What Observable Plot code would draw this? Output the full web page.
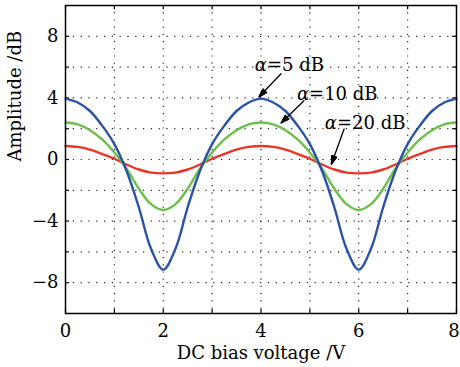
<!DOCTYPE html>
<html><head><meta charset="utf-8">
<script src="https://cdn.jsdelivr.net/npm/d3@7"></script>
<script src="https://cdn.jsdelivr.net/npm/@observablehq/plot@0.6"></script>
<style>body{margin:0;background:#fff;} svg{display:block;}</style>
</head><body><div id="chart"></div>
<script>
// DC bias voltage (V)
const voltage = [0,0.25,0.5,0.75,1,1.25,1.5,1.75,2,2.25,2.5,2.75,3,3.25,3.5,3.75,4,
                 4.25,4.5,4.75,5,5.25,5.5,5.75,6,6.25,6.5,6.75,7,7.25,7.5,7.75,8];
// Amplitude (dB) for each extinction ratio
const alpha5 = [3.95,3.7,3.15,2.2,1.0,-0.75,-3.1,-5.8,-7.15,-5.8,-3.1,-0.75,1.0,2.2,3.15,3.7,3.95,
                3.7,3.15,2.2,1.0,-0.75,-3.1,-5.8,-7.15,-5.8,-3.1,-0.75,1.0,2.2,3.15,3.7,3.95];
const alpha10 = [2.4,2.28,1.9,1.3,0.45,-0.6,-1.9,-2.9,-3.28,-2.9,-1.9,-0.6,0.45,1.3,1.9,2.28,2.4,
                 2.28,1.9,1.3,0.45,-0.6,-1.9,-2.9,-3.28,-2.9,-1.9,-0.6,0.45,1.3,1.9,2.28,2.4];
const alpha20 = [0.88,0.82,0.64,0.36,0.05,-0.33,-0.65,-0.85,-0.9,-0.85,-0.65,-0.33,0.05,0.36,0.64,0.82,0.88,
                 0.82,0.64,0.36,0.05,-0.33,-0.65,-0.85,-0.9,-0.85,-0.65,-0.33,0.05,0.36,0.64,0.82,0.88];

const xTicks = [0,2,4,6,8];
const yTicks = [-8,-4,0,4,8];
const xGrid = [1,2,3,4,5,6,7];
const yGrid = [-8,-6,-4,-2,0,2,4,6,8];
const xDomain = [0,8];
const yDomain = [-10,10];

// annotations
const labelText = ["α=5 dB","α=10 dB","α=20 dB"];
const labelX = [4.58,5.56,6.13];
const labelY = [6.1,4.26,2.37];
const arrowX1 = [4.41,4.88,5.70];
const arrowY1 = [5.57,3.81,1.98];
const arrowX2 = [3.96,4.41,5.44];
const arrowY2 = [4.07,2.37,-0.31];

const colors = {a5:"#2a52a8", a10:"#6dbf4b", a20:"#e8362b"};

const toRows = (ys) => voltage.map((v,i) => ({x:v, y:ys[i]}));
const labels = labelText.map((t,i) => ({t, x:labelX[i], y:labelY[i]}));
const arrows = labelText.map((t,i) => ({x1:arrowX1[i], y1:arrowY1[i], x2:arrowX2[i], y2:arrowY2[i]}));
const minus = d => String(d).replace("-", "\u2212");

const tickLenY = 0.28, tickLenX = 0.08;
const allX = [0,1,2,3,4,5,6,7,8];

const chart = Plot.plot({
  width: 460, height: 367,
  marginLeft: 65, marginRight: 4, marginTop: 5, marginBottom: 54,
  style: {fontFamily: "'DejaVu Serif', serif", fontSize: "18px", background: "#fff", color: "#000"},
  x: {domain: xDomain, ticks: xTicks, tickFormat: minus, tickSize: 0, tickPadding: 11, label: null},
  y: {domain: yDomain, ticks: yTicks, tickFormat: minus, tickSize: 0, tickPadding: 7, label: null},
  marks: [
    Plot.ruleX(xGrid, {stroke: "#000", strokeWidth: 1.2, strokeDasharray: "1.2,6", strokeOpacity: 0.85}),
    Plot.ruleY(yGrid, {stroke: "#000", strokeWidth: 1.2, strokeDasharray: "1.2,6.6", strokeOpacity: 0.85}),
    // inward ticks
    Plot.ruleX(allX, {y1: yDomain[0], y2: yDomain[0] + tickLenY, stroke: "#000", strokeWidth: 1.2}),
    Plot.ruleX(allX, {y1: yDomain[1], y2: yDomain[1] - tickLenY, stroke: "#000", strokeWidth: 1.2}),
    Plot.ruleY(yGrid, {x1: xDomain[0], x2: xDomain[0] + tickLenX, stroke: "#000", strokeWidth: 1.2}),
    Plot.ruleY(yGrid, {x1: xDomain[1], x2: xDomain[1] - tickLenX, stroke: "#000", strokeWidth: 1.2}),
    Plot.line(toRows(alpha20), {x: "x", y: "y", stroke: colors.a20, strokeWidth: 2.4, curve: "catmull-rom"}),
    Plot.line(toRows(alpha10), {x: "x", y: "y", stroke: colors.a10, strokeWidth: 2.4, curve: "catmull-rom"}),
    Plot.line(toRows(alpha5), {x: "x", y: "y", stroke: colors.a5, strokeWidth: 2.4, curve: "catmull-rom"}),
    Plot.arrow(arrows, {x1: "x1", y1: "y1", x2: "x2", y2: "y2", stroke: "#000", strokeWidth: 1.3, headLength: 10, headAngle: 34}),
    Plot.text(labels, {x: "x", y: "y", text: "t", fontSize: 18, fill: "#000"}),
    Plot.frame({stroke: "#000", strokeWidth: 1.5}),
    Plot.text(["DC bias voltage /V"], {frameAnchor: "bottom", dy: 45, fontSize: 18, fill: "#000"}),
    Plot.text(["Amplitude /dB"], {frameAnchor: "left", dx: -50, dy: 2, rotate: -90, fontSize: 18, fill: "#000"})
  ]
});

// italic alpha in annotation labels
chart.querySelectorAll("text").forEach(t => {
  const s = t.textContent;
  if (s.startsWith("α") && t.children.length === 0) {
    t.textContent = "";
    const a = document.createElementNS("http://www.w3.org/2000/svg", "tspan");
    a.setAttribute("font-style", "italic");
    a.textContent = "α";
    const b = document.createElementNS("http://www.w3.org/2000/svg", "tspan");
    b.textContent = s.slice(1);
    t.appendChild(a); t.appendChild(b);
  }
});
// keep the last x tick label inside the picture
const xTexts = chart.querySelectorAll('[aria-label^="x-axis"] text');
if (xTexts.length) {
  const last = xTexts[xTexts.length - 1];
  if (last.textContent === "8") last.setAttribute("dx", "-2.5");
}
// filled arrow heads
chart.querySelectorAll('g[aria-label="arrow"] path').forEach(p => {
  const n = (p.getAttribute("d").match(/-?\d*\.?\d+(e-?\d+)?/g) || []).map(Number);
  if (n.length >= 6) {
    const k = n.slice(-6);
    const h = document.createElementNS("http://www.w3.org/2000/svg", "path");
    h.setAttribute("d", `M${k[0]},${k[1]}L${k[2]},${k[3]}L${k[4]},${k[5]}Z`);
    h.setAttribute("fill", "#000");
    h.setAttribute("stroke", "#000");
    h.setAttribute("stroke-width", "1");
    p.parentNode.appendChild(h);
  }
});
document.getElementById("chart").appendChild(chart);
</script>
</body></html>
